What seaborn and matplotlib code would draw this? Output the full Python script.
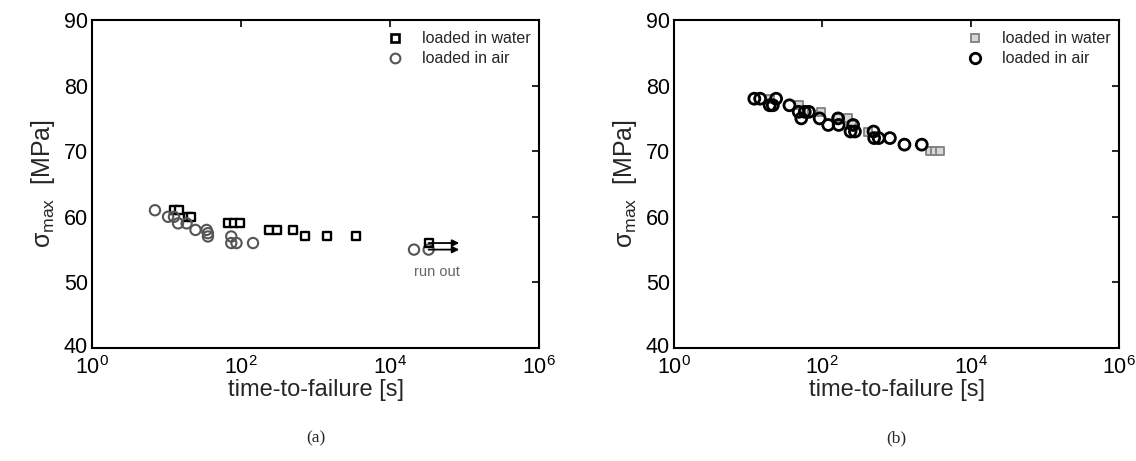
import numpy as np
import pandas as pd
import matplotlib
matplotlib.use("Agg")
import matplotlib.pyplot as plt
from matplotlib.lines import Line2D
from matplotlib.ticker import NullLocator, FixedLocator
from matplotlib.transforms import ScaledTranslation
import seaborn as sns

sns.set_theme(style="white")
plt.rcParams["font.family"] = ["Liberation Sans", "DejaVu Sans"]
plt.rcParams["mathtext.fontset"] = "custom"
plt.rcParams["mathtext.rm"] = "Liberation Sans"
plt.rcParams["mathtext.it"] = "Liberation Sans:italic"

# ---- panel (a): time-to-failure vs. max stress ----
a_water_t = [12.5, 14.5, 19.5, 21.5, 67, 80, 96, 237, 303, 500, 720, 1410, 3450]
a_water_s = [61, 61, 60, 60, 59, 59, 59, 58, 58, 58, 57, 57, 57]
a_air_t = [7.0, 10.5, 12.6, 14.3, 18.6, 24.5, 34.5, 36, 36, 74, 74, 87, 145]
a_air_s = [61, 60, 60, 59, 59, 58, 58, 57.5, 57, 57, 56, 56, 56]
# specimens that did not fail (run out)
a_runout_water_t = [33000]
a_runout_water_s = [56]
a_runout_air_t = [21000, 33000]
a_runout_air_s = [55, 55]
runout_end_t = 85000

# ---- panel (b) ----
b_water_t = [19.4, 49, 57, 97, 163, 224, 248, 415, 2830, 3330, 3880]
b_water_s = [78, 77, 76, 76, 75, 75, 74, 73, 70, 70, 70]
b_air_t = [12.1, 14.5, 19.5, 21.5, 23.8, 36, 48, 52, 58, 66, 92, 120, 163, 166,
           240, 260, 275, 490, 500, 575, 815, 1280, 2190]
b_air_s = [78, 78, 77, 77, 78, 77, 76, 75, 76, 76, 75, 74, 75, 74,
           73, 74, 73, 73, 72, 72, 72, 71, 71]

legend_labels = ["loaded in water", "loaded in air"]
y_ticks = [40, 50, 60, 70, 80, 90]
x_ticks = [1e0, 1e2, 1e4, 1e6]
panel_tags = ["(a)", "(b)"]

W, H = 1136, 461
fig = plt.figure(figsize=(W / 100, H / 100), dpi=100)
ax_a = fig.add_axes([92 / W, 1 - 348 / H, (539 - 92) / W, (348 - 20) / H])
ax_b = fig.add_axes([674 / W, 1 - 348 / H, (1119 - 674) / W, (348 - 20) / H])


def frame(ax):
    ax.set_xscale("log")
    ax.set_xlim(1, 1e6)
    ax.set_ylim(40, 90)
    ax.xaxis.set_major_locator(FixedLocator(x_ticks))
    ax.xaxis.set_minor_locator(NullLocator())
    ax.set_yticks(y_ticks)
    ax.tick_params(direction="in", length=5, width=1.2, top=True, right=True,
                   labelsize=15.5, colors="black")
    ax.tick_params(axis="y", pad=3)
    ax.tick_params(axis="x", pad=6)
    for s in ax.spines.values():
        s.set_visible(True)
        s.set_color("black")
        s.set_linewidth(1.5)
    ax.set_xlabel("time-to-failure [s]", fontsize=17, labelpad=0)
    ax.set_ylabel(r"$\mathregular{\sigma_{max}}$  [MPa]", fontsize=18, labelpad=5)
    ax.grid(False)
    ax.set_xticklabels([r"$\mathregular{10^{%d}}$" % int(np.log10(v)) for v in x_ticks])
    # lift the bottom y label a little so it clears the 10^0 label below it
    lowest = ax.get_yticklabels()[0]
    lowest.set_transform(lowest.get_transform()
                         + ScaledTranslation(0, 3 / 100, fig.dpi_scale_trans))


def scatter(ax, t, s, marker, size, face, edge, lw):
    df = pd.DataFrame({"t": t, "s": s})
    sns.scatterplot(data=df, x="t", y="s", ax=ax, marker=marker, s=size,
                    facecolor=face, edgecolor=edge, linewidth=lw, zorder=3)


def legend(ax, handles):
    ax.legend(handles, legend_labels, loc="upper right", frameon=False,
              fontsize=11.5, handletextpad=1.1, labelspacing=0.3,
              borderaxespad=0.0, handlelength=1.2,
              bbox_to_anchor=(0.995, 0.985))


# panel (a)
frame(ax_a)
scatter(ax_a, a_water_t, a_water_s, "s", 34, "white", "black", 1.7)
scatter(ax_a, a_air_t, a_air_s, "o", 55, "none", "#555555", 1.5)
scatter(ax_a, a_runout_air_t, a_runout_air_s, "o", 55, "none", "#555555", 1.5)
scatter(ax_a, a_runout_water_t, a_runout_water_s, "s", 34, "none", "black", 1.7)
for t0, s0 in [(a_runout_water_t[0], a_runout_water_s[0]),
               (a_runout_air_t[-1], a_runout_air_s[-1])]:
    ax_a.annotate("", xy=(runout_end_t, s0), xytext=(t0, s0),
                  arrowprops=dict(arrowstyle="-|>", color="black", lw=1.3,
                                  mutation_scale=10, shrinkA=0, shrinkB=0),
                  zorder=4)
ax_a.text(4.3e4, 51.6, "run out", color="#666666", fontsize=10.5,
          ha="center", va="center")
legend(ax_a, [
    Line2D([], [], ls="none", marker="s", ms=6, mfc="white", mec="black", mew=1.9),
    Line2D([], [], ls="none", marker="o", ms=7, mfc="none", mec="#555555", mew=1.5),
])

# panel (b)
frame(ax_b)
scatter(ax_b, b_water_t, b_water_s, "s", 38, "#d8d8d8", "#808080", 1.3)
scatter(ax_b, b_air_t, b_air_s, "o", 62, "none", "black", 2.0)
legend(ax_b, [
    Line2D([], [], ls="none", marker="s", ms=6, mfc="#d8d8d8", mec="#808080", mew=1.3),
    Line2D([], [], ls="none", marker="o", ms=7.5, mfc="none", mec="black", mew=2.0),
])

# sub-figure captions
fig.text((92 + 539) / 2 / W, 1 - 438 / H, panel_tags[0], family="Liberation Serif",
         fontsize=12.5, ha="center", va="center")
fig.text((674 + 1119) / 2 / W, 1 - 438 / H, panel_tags[1], family="Liberation Serif",
         fontsize=12.5, ha="center", va="center")

fig.savefig("out.png", dpi=100, facecolor="white")
